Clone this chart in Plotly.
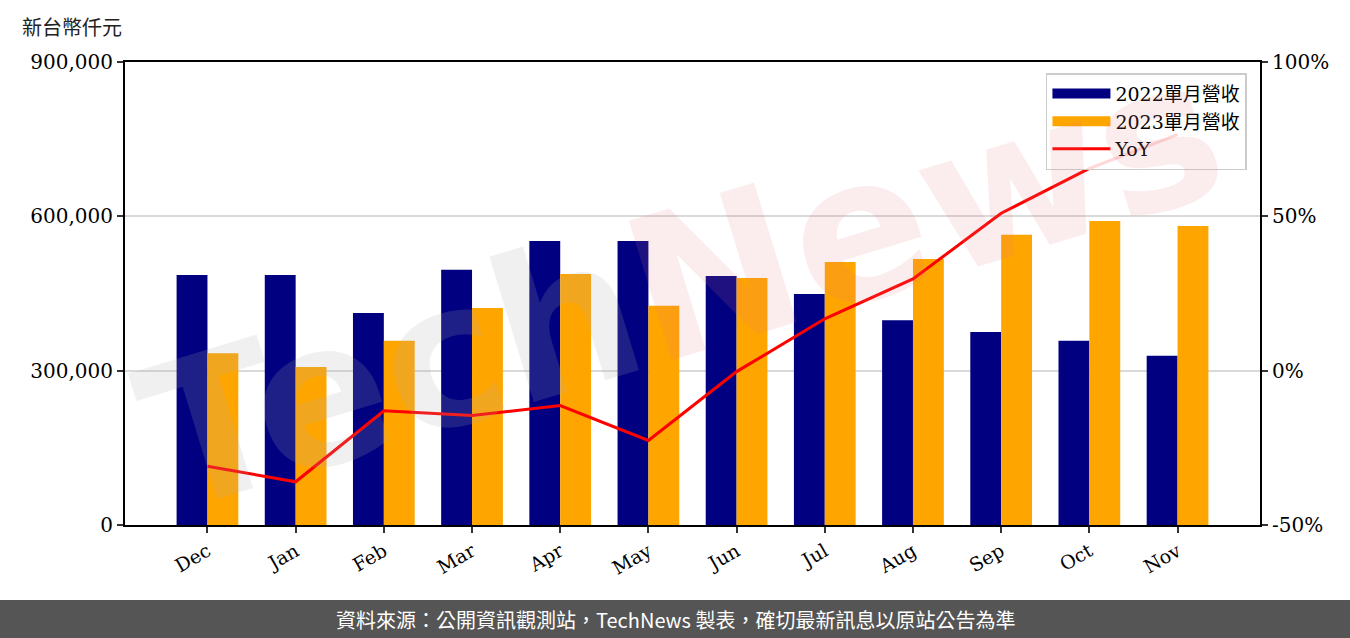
import plotly.graph_objects as go

months = ["Dec", "Jan", "Feb", "Mar", "Apr", "May", "Jun", "Jul", "Aug", "Sep", "Oct", "Nov"]
rev_2022 = [486000, 486000, 412000, 496000, 552000, 552000, 484000, 449000, 398000, 375000, 358000, 329000]
rev_2023 = [334000, 307000, 358000, 422000, 488000, 426000, 480000, 511000, 517000, 564000, 591000, 581000]
yoy = [-0.31, -0.36, -0.13, -0.145, -0.113, -0.226, -0.003, 0.168, 0.297, 0.51, 0.655, 0.765]

left_ticks = [0, 300000, 600000, 900000]
left_tick_text = ["0", "300,000", "600,000", "900,000"]
right_ticks = [-0.5, 0.0, 0.5, 1.0]
right_tick_text = ["-50%", "0%", "50%", "100%"]

NAVY = "#000080"
ORANGE = "#FFA500"
RED = "#FF0000"

serif = "DejaVu Serif, Noto Sans CJK TC"

fig = go.Figure()
fig.add_trace(go.Bar(x=months, y=rev_2022, name="2022單月營收", marker_color=NAVY,
                     marker_line_width=0, showlegend=False))
fig.add_trace(go.Bar(x=months, y=rev_2023, name="2023單月營收", marker_color=ORANGE,
                     marker_line_width=0, showlegend=False))
fig.add_trace(go.Scatter(x=months, y=yoy, name="YoY", mode="lines",
                         line=dict(color=RED, width=3), yaxis="y2", showlegend=False))

# legend entries (patch-like swatches)
fig.add_trace(go.Scatter(x=[None], y=[None], name="2022單月營收", mode="lines",
                         line=dict(color=NAVY, width=16)))
fig.add_trace(go.Scatter(x=[None], y=[None], name="2023單月營收", mode="lines",
                         line=dict(color=ORANGE, width=16)))
fig.add_trace(go.Scatter(x=[None], y=[None], name="YoY", mode="lines",
                         line=dict(color=RED, width=3)))

fig.update_layout(
    width=1350, height=638,
    margin=dict(l=125, r=90, t=62, b=113),
    paper_bgcolor="white", plot_bgcolor="white",
    barmode="group", bargap=0.3, bargroupgap=0,
    font=dict(family=serif, size=19, color="black"),
    showlegend=True,
    legend=dict(x=0.9885, xanchor="right", y=0.976, yanchor="top",
                bgcolor="rgba(255,255,255,0.85)", bordercolor="#cccccc", borderwidth=1.5,
                font=dict(family=serif, size=19), tracegroupgap=0, itemwidth=58),
    xaxis=dict(range=[-0.935, 11.935], showline=True, linecolor="black", linewidth=2,
               mirror=True, ticks="outside", ticklen=6, tickwidth=1.5, tickcolor="#333",
               tickangle=-30, tickfont=dict(family=serif, size=19), showgrid=False),
    yaxis=dict(range=[0, 900000], tickvals=left_ticks, ticktext=left_tick_text,
               showline=True, linecolor="black", linewidth=2, mirror=True,
               ticks="outside", ticklen=6, tickwidth=1.5, tickcolor="#333",
               showgrid=True, gridcolor="#d9d9d9", gridwidth=1.5, zeroline=False,
               tickfont=dict(family=serif, size=20)),
    yaxis2=dict(range=[-0.5, 1.0], tickvals=right_ticks, ticktext=right_tick_text,
                overlaying="y", side="right", showline=True, linecolor="black", linewidth=2,
                ticks="outside", ticklen=6, tickwidth=1.5, tickcolor="#333",
                showgrid=False, zeroline=False, tickfont=dict(family=serif, size=20)),
)

# watermark
fig.add_annotation(
    xref="paper", yref="paper", x=0.49, y=0.52, showarrow=False, textangle=-17,
    text="<span style='color:rgba(170,170,170,0.18)'>Tech</span><span style='color:rgba(225,120,130,0.14)'>News</span>",
    font=dict(family="DejaVu Sans", size=200, weight="bold"),
)

# unit label
fig.add_annotation(xref="paper", yref="paper", x=-0.0925, y=1.0756, xanchor="left",
                   yanchor="middle", showarrow=False, text="新台幣仟元",
                   font=dict(family="Noto Sans CJK TC", size=20, color="#222"))

# footer band
fig.add_shape(type="rect", xref="paper", yref="paper", x0=-0.12, x1=1.09,
              y0=-0.245, y1=-0.162, fillcolor="#555555", line_width=0, layer="above")
fig.add_annotation(xref="paper", yref="paper", x=(675 - 125) / 1135, y=(525 - 619) / 463,
                   xanchor="center", yanchor="middle", showarrow=False,
                   text="資料來源：公開資訊觀測站，TechNews 製表，確切最新訊息以原站公告為準",
                   font=dict(family="Noto Sans CJK TC", size=20, color="white"))

fig.write_html("out.html", config={"displayModeBar": False},
               post_script="document.body.style.margin='0';")
